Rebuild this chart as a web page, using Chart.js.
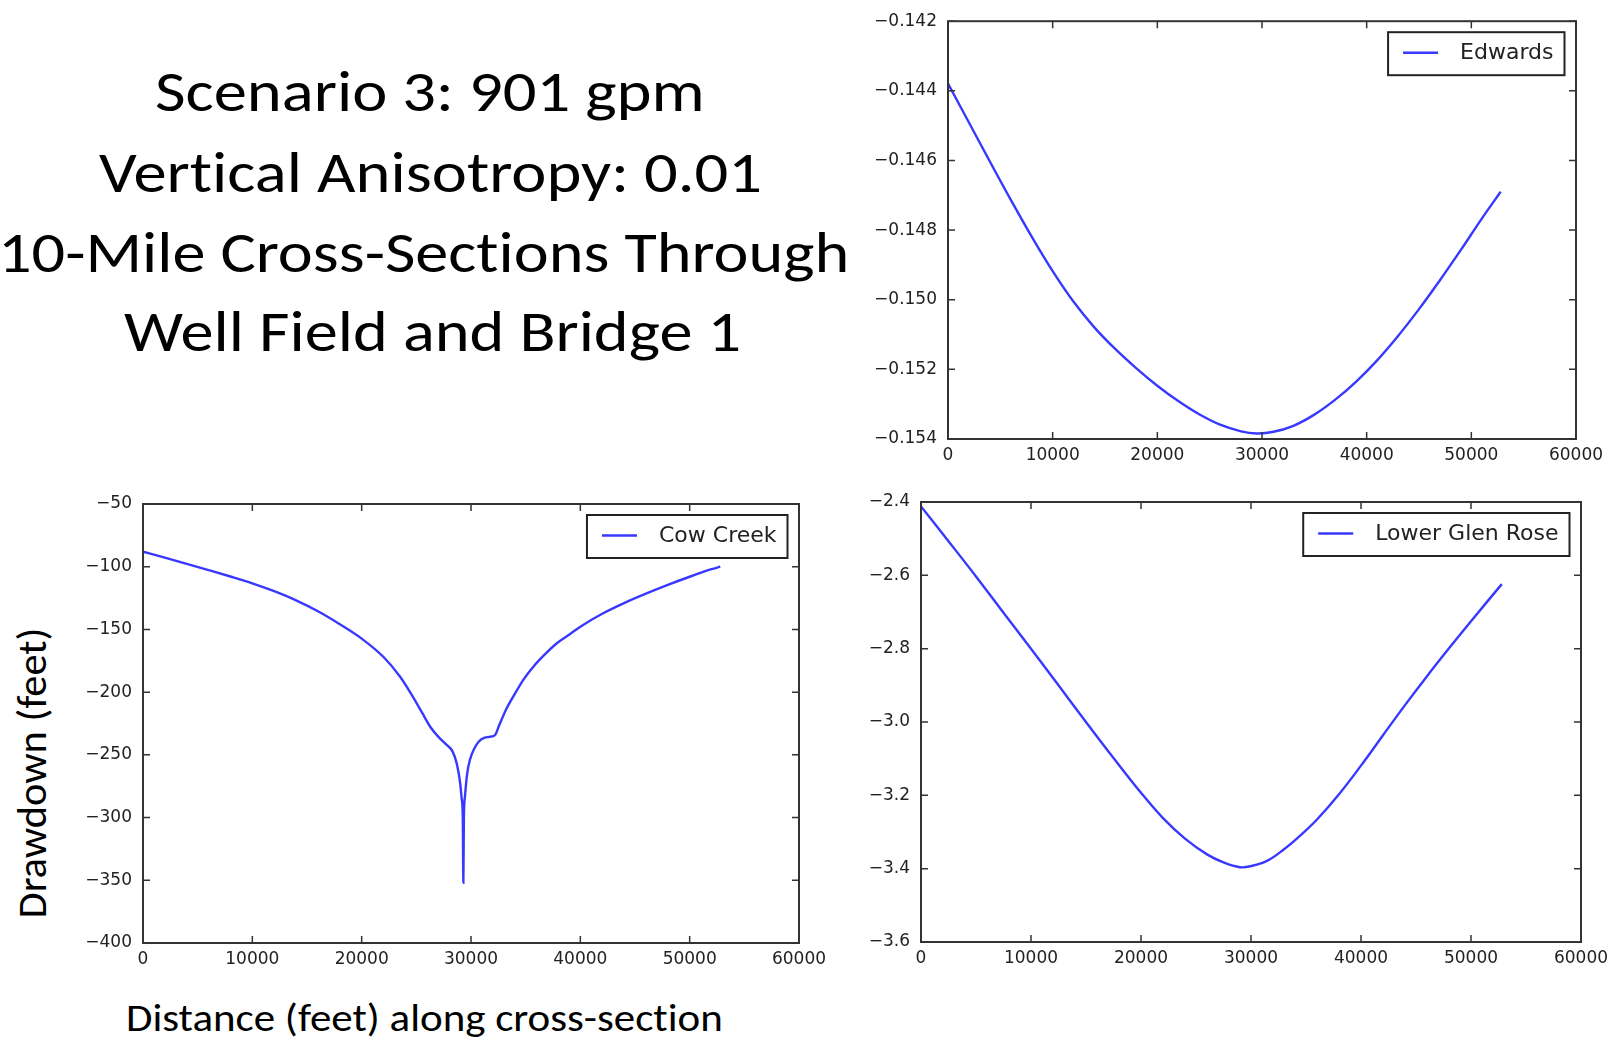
<!DOCTYPE html>
<html>
<head>
<meta charset="utf-8">
<script src="https://cdn.jsdelivr.net/npm/chart.js@4.4.0/dist/chart.umd.min.js"></script>
<style>
  html, body { margin: 0; padding: 0; background: #fff; }
  body { width: 1619px; height: 1039px; position: relative; overflow: hidden; }
  .txt { position: absolute; white-space: nowrap; line-height: 1; color: #000;
         font-family: Carlito, Calibri, Lato, sans-serif; transform-origin: 0 0;
         font-variant-ligatures: none; font-feature-settings: "liga" 0; }
  canvas { position: absolute; }
</style>
</head>
<body>
<div class="txt" id="t1" style="font-size:57px">Scenario 3: 901 gpm</div>
<div class="txt" id="t2" style="font-size:57px">Vertical Anisotropy: 0.01</div>
<div class="txt" id="t3" style="font-size:57px">10-Mile Cross-Sections Through</div>
<div class="txt" id="t4" style="font-size:57px">Well Field and Bridge 1</div>
<div class="txt" id="xtitle" style="font-size:39px">Distance (feet) along cross-section</div>
<div class="txt" id="ytitle" style="font-size:40px">Drawdown (feet)</div>

<canvas id="edwards" width="759" height="470" style="left:860px;top:0px"></canvas>
<canvas id="cowCreek" width="780" height="500" style="left:60px;top:480px"></canvas>
<canvas id="glenRose" width="769" height="500" style="left:850px;top:480px"></canvas>

<script>
// distance along the cross-section (ft) and drawdown (ft)
const distTicks = [0, 10000, 20000, 30000, 40000, 50000, 60000];

const edwardsDist = [0, 2000, 4000, 6000, 8000, 10000, 12000, 14000, 16000, 18000, 20000, 22000, 24000, 26000,
  28000, 29500, 31000, 33000, 35000, 37000, 39000, 41000, 43000, 45000, 47000, 49000, 51000, 52800];
const edwardsDrawdown = [-0.14379, -0.14491, -0.14603, -0.14713, -0.14819, -0.14918, -0.15006, -0.15080, -0.15142,
  -0.15197, -0.15247, -0.15291, -0.15329, -0.15359, -0.15378, -0.15384, -0.15380, -0.15362, -0.15330, -0.15287,
  -0.15235, -0.15174, -0.15104, -0.15027, -0.14944, -0.14857, -0.14767, -0.14690];
const edwardsTicks = [-0.154, -0.152, -0.150, -0.148, -0.146, -0.144, -0.142];

const cowCreekDist = [0, 2000, 4000, 6000, 8000, 10000, 12000, 14000, 16000, 18000, 20000, 22000,
  23500, 24500, 25500, 26300, 27000, 27700, 28300, 28700, 29000, 29150, 29250, 29300,
  29350, 29450, 29650, 29900, 30300, 30700, 31200, 31800, 32200, 32600, 33200, 33900,
  34800, 35700, 36800, 37850, 39000, 40000, 42000, 44000, 46000, 48000, 50000, 52000, 52800];
const cowCreekDrawdown = [-88, -92.8, -97.7, -102.7, -107.8, -113.2, -119.5, -126.8, -135.5, -145.8, -157.3, -172,
  -187.5, -201, -216, -228, -235.5, -241.5, -247, -257, -272, -285, -300, -352,
  -300, -283, -265, -254, -245, -239.5, -236.5, -235.5, -234.2, -226, -214, -203,
  -190, -179.7, -169.5, -161, -154, -147.8, -137.5, -129, -121.5, -114.5, -108, -102, -100];
const cowCreekTicks = [-400, -350, -300, -250, -200, -150, -100, -50];

const glenRoseDist = [0, 2500, 5000, 7500, 10000, 12500, 15000, 17500, 20000, 22000, 24000, 26000, 27500,
  29000, 30000, 31500, 33000, 34500, 36000, 38000, 40000, 42000, 44000, 46000, 48000, 50000, 52800];
const glenRoseDrawdown = [-2.412, -2.507, -2.603, -2.702, -2.800, -2.900, -3.000, -3.098, -3.193, -3.262, -3.318,
  -3.361, -3.383, -3.396, -3.393, -3.378, -3.347, -3.309, -3.266, -3.197, -3.119, -3.036, -2.954, -2.875,
  -2.799, -2.725, -2.624];
const glenRoseTicks = [-3.6, -3.4, -3.2, -3.0, -2.8, -2.6, -2.4];

const lineColor = 'rgba(0, 0, 255, 0.78)';
const tickFont = { family: '"DejaVu Sans", sans-serif', size: 17 };
const inkColor = '#222';

// matplotlib-style frame with inward ticks on all four sides
const framePlugin = {
  id: 'frame',
  afterDatasetsDraw(chart) {
    const { ctx, chartArea: a, scales } = chart;
    ctx.save();
    ctx.strokeStyle = '#333';
    ctx.lineWidth = 1.5;
    ctx.beginPath();
    scales.x.ticks.forEach(t => {
      const p = scales.x.getPixelForValue(t.value);
      ctx.moveTo(p, a.bottom); ctx.lineTo(p, a.bottom - 7);
      ctx.moveTo(p, a.top); ctx.lineTo(p, a.top + 7);
    });
    scales.y.ticks.forEach(t => {
      const p = scales.y.getPixelForValue(t.value);
      ctx.moveTo(a.left, p); ctx.lineTo(a.left + 7, p);
      ctx.moveTo(a.right, p); ctx.lineTo(a.right - 7, p);
    });
    ctx.stroke();
    ctx.lineWidth = 2;
    ctx.strokeRect(a.left, a.top, a.right - a.left, a.bottom - a.top);
    ctx.restore();
  }
};

// boxed legend in the upper right corner of the plot
const legendPlugin = {
  id: 'boxLegend',
  afterDraw(chart) {
    const { ctx, chartArea: a } = chart;
    const ds = chart.data.datasets[0];
    ctx.save();
    ctx.font = '22px "DejaVu Sans", sans-serif';
    const tw = ctx.measureText(ds.label).width;
    const w = 15 + 35 + 22 + tw + 11, h = 43;
    const x = a.right - 11.5 - w, y = a.top + 11;
    ctx.fillStyle = '#fff';
    ctx.fillRect(x, y, w, h);
    ctx.strokeStyle = '#222';
    ctx.lineWidth = 2;
    ctx.strokeRect(x, y, w, h);
    ctx.strokeStyle = ds.borderColor;
    ctx.lineWidth = 2.4;
    ctx.beginPath();
    ctx.moveTo(x + 15, y + h / 2 - 1);
    ctx.lineTo(x + 50, y + h / 2 - 1);
    ctx.stroke();
    ctx.fillStyle = inkColor;
    ctx.textBaseline = 'middle';
    ctx.fillText(ds.label, x + 72, y + h / 2);
    ctx.restore();
  }
};

function fmt(v, decimals) {
  const s = Number(v).toFixed(decimals);
  return s.replace('-', '\u2212');
}

function makeChart(id, label, dist, values, yTicks, decimals, box, smooth) {
  const points = dist.map((d, i) => ({ x: d, y: values[i] }));
  const ds = {
    label: label,
    data: points,
    borderColor: lineColor,
    borderWidth: 2.4,
    pointRadius: 0,
    fill: false
  };
  if (smooth) ds.tension = 0.4;
  else ds.cubicInterpolationMode = 'monotone';
  return new Chart(document.getElementById(id), {
    type: 'line',
    data: { datasets: [ds] },
    options: {
      responsive: false,
      animation: false,
      events: [],
      layout: { padding: { top: box.top, right: box.right, left: 0, bottom: 0 } },
      plugins: { legend: { display: false }, tooltip: { enabled: false } },
      scales: {
        x: {
          type: 'linear',
          min: distTicks[0],
          max: distTicks[distTicks.length - 1],
          afterBuildTicks: s => { s.ticks = distTicks.map(v => ({ value: v })); },
          afterFit: s => { s.height = box.xHeight; },
          grid: { display: false, drawTicks: false },
          border: { display: false },
          ticks: { font: tickFont, color: inkColor, padding: 6, maxRotation: 0, autoSkip: false,
                   callback: v => String(v) }
        },
        y: {
          type: 'linear',
          min: yTicks[0],
          max: yTicks[yTicks.length - 1],
          afterBuildTicks: s => { s.ticks = yTicks.map(v => ({ value: v })); },
          afterFit: s => { s.width = box.yWidth; },
          grid: { display: false, drawTicks: false },
          border: { display: false },
          ticks: { font: tickFont, color: inkColor, padding: 11, autoSkip: false,
                   callback: v => fmt(v, decimals) }
        }
      }
    },
    plugins: [framePlugin, legendPlugin]
  });
}

makeChart('edwards', 'Edwards', edwardsDist, edwardsDrawdown, edwardsTicks, 3,
  { yWidth: 88, xHeight: 31, top: 21, right: 43 }, true);
makeChart('cowCreek', 'Cow Creek', cowCreekDist, cowCreekDrawdown, cowCreekTicks, 0,
  { yWidth: 83, xHeight: 37, top: 24, right: 41 }, false);
makeChart('glenRose', 'Lower Glen Rose', glenRoseDist, glenRoseDrawdown, glenRoseTicks, 1,
  { yWidth: 71, xHeight: 38, top: 22, right: 38 }, true);

// stretch the slide text to the widths it has in the picture
function place(id, left, top, width) {
  const el = document.getElementById(id);
  const w = el.offsetWidth;
  el.style.left = left + 'px';
  el.style.top = top + 'px';
  el.style.transform = 'scaleX(' + (width / w) + ')';
}
place('t1', 155, 63, 550);
place('t2', 99, 144, 663);
place('t3', -2, 224, 851);
place('t4', 124, 303, 617);
place('xtitle', 126, 998, 597);

const yt = document.getElementById('ytitle');
const yw = yt.offsetWidth, yh = yt.offsetHeight;
yt.style.transformOrigin = '50% 50%';
yt.style.left = (33 - yw / 2) + 'px';
yt.style.top = (773 - yh / 2) + 'px';
yt.style.transform = 'rotate(-90deg) scaleX(' + (291 / yw) + ')';
</script>
</body>
</html>
